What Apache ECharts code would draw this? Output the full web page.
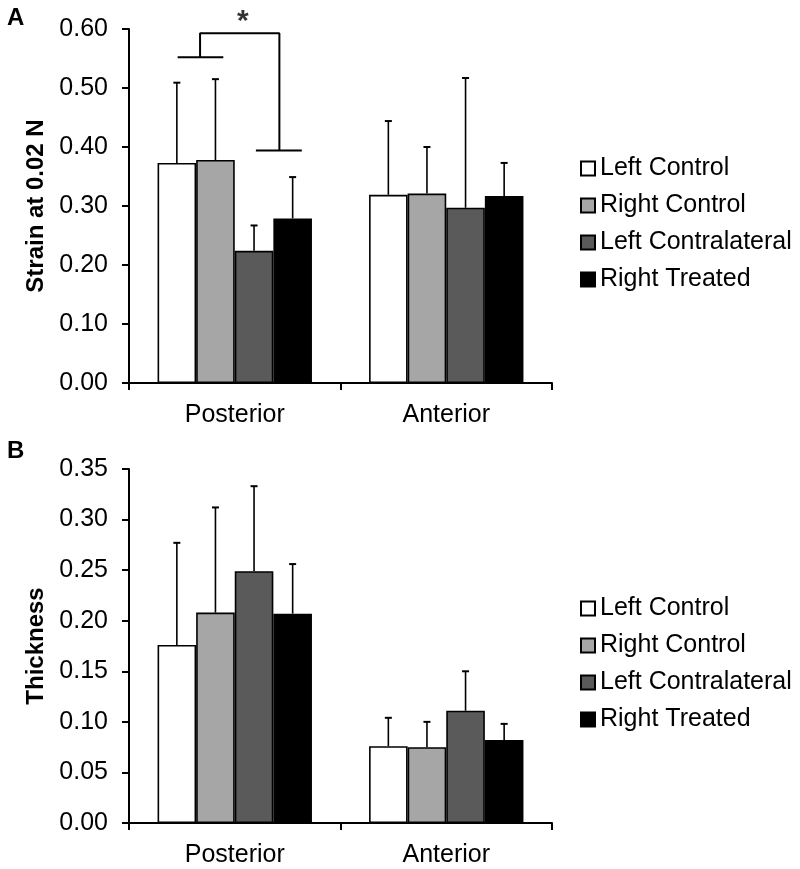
<!DOCTYPE html>
<html>
<head>
<meta charset="utf-8">
<script src="https://cdn.jsdelivr.net/npm/echarts@6/dist/echarts.min.js"></script>
<style>html,body{margin:0;padding:0;background:#fff;}#c{width:800px;height:869px;}</style>
</head>
<body>
<div id="c"></div>
<script>
const categories = ['Posterior', 'Anterior'];
const seriesNames = ['Left Control', 'Right Control', 'Left Contralateral', 'Right Treated'];
const seriesColors = ['#ffffff', '#a6a6a6', '#5a5a5a', '#000000'];

// Panel A: Strain at 0.02 N (mean, SD)
const strainLeftControl = [0.373, 0.319];
const strainRightControl = [0.378, 0.321];
const strainLeftContralateral = [0.224, 0.297];
const strainRightTreated = [0.279, 0.317];
const strainLeftControlSD = [0.136, 0.125];
const strainRightControlSD = [0.137, 0.079];
const strainLeftContralateralSD = [0.043, 0.220];
const strainRightTreatedSD = [0.070, 0.056];

// Panel B: Thickness (mean, SD)
const thickLeftControl = [0.176, 0.076];
const thickRightControl = [0.208, 0.075];
const thickLeftContralateral = [0.249, 0.111];
const thickRightTreated = [0.207, 0.082];
const thickLeftControlSD = [0.101, 0.028];
const thickRightControlSD = [0.104, 0.025];
const thickLeftContralateralSD = [0.084, 0.039];
const thickRightTreatedSD = [0.049, 0.016];

// Significance bracket (x in category units, category 0 spans 0..1)
const bracketLeftX = [0.230, 0.446];
const bracketLeftY = 0.552;
const bracketTopX = [0.336, 0.711];
const bracketTopY = 0.593;
const bracketRightX = [0.600, 0.817];
const bracketRightY = 0.394;
const asteriskPos = [0.538, 0.612];

const strainTicks = { min: 0, max: 0.6, interval: 0.1 };
const thickTicks = { min: 0, max: 0.35, interval: 0.05 };

const strainMeans = [strainLeftControl, strainRightControl, strainLeftContralateral, strainRightTreated];
const strainSDs = [strainLeftControlSD, strainRightControlSD, strainLeftContralateralSD, strainRightTreatedSD];
const thickMeans = [thickLeftControl, thickRightControl, thickLeftContralateral, thickRightTreated];
const thickSDs = [thickLeftControlSD, thickRightControlSD, thickLeftContralateralSD, thickRightTreatedSD];

const FONT = '"Liberation Sans", Arial, sans-serif';
const CAT_GAP = 0.27;
const FS = 25;

function barSeries(means, gridIdx) {
  return means.map((vals, i) => ({
    name: seriesNames[i],
    type: 'bar',
    xAxisIndex: gridIdx === 0 ? 0 : 2,
    yAxisIndex: gridIdx,
    data: vals,
    barGap: '0%',
    barCategoryGap: (CAT_GAP * 100) + '%',
    itemStyle: { color: seriesColors[i], borderColor: '#000', borderWidth: 1.6 },
    emphasis: { disabled: true },
    animation: false
  }));
}

function errSeries(means, sds, gridIdx) {
  return means.map((vals, i) => ({
    type: 'custom',
    xAxisIndex: gridIdx === 0 ? 0 : 2,
    yAxisIndex: gridIdx,
    data: vals.map((m, k) => [k, m, m + sds[i][k]]),
    renderItem: function (params, api) {
      const c = api.value(0);
      const base = api.coord([c, api.value(1)]);
      const top = api.coord([c, api.value(2)]);
      const catW = api.size([1, 0])[0];
      const barW = catW * (1 - CAT_GAP) / 4;
      const x = base[0] + (i - 1.5) * barW;
      return {
        type: 'group',
        children: [
          { type: 'line', shape: { x1: x, y1: base[1], x2: x, y2: top[1] }, style: { stroke: '#000', lineWidth: 1.6 } },
          { type: 'line', shape: { x1: x - 3.5, y1: top[1], x2: x + 3.5, y2: top[1] }, style: { stroke: '#000', lineWidth: 2 } }
        ]
      };
    },
    silent: true,
    animation: false,
    z: 5
  }));
}

function catAxis(gridIdx) {
  return {
    type: 'category',
    gridIndex: gridIdx,
    data: categories,
    axisLine: { lineStyle: { color: '#000', width: 2 } },
    axisTick: { show: true, length: 7, lineStyle: { color: '#000', width: 2 } },
    axisLabel: { color: '#000', fontSize: FS, fontFamily: FONT, margin: 20 },
    splitLine: { show: false }
  };
}

function valAxis(gridIdx, ticks, name) {
  return {
    type: 'value',
    gridIndex: gridIdx,
    min: ticks.min, max: ticks.max, interval: ticks.interval,
    name: name,
    nameLocation: 'middle',
    nameGap: 79,
    nameTextStyle: { color: '#000', fontSize: 24, fontWeight: 'bold', fontFamily: FONT },
    axisLine: { show: true, lineStyle: { color: '#000', width: 2 } },
    axisTick: { show: true, length: 7, lineStyle: { color: '#000', width: 2 } },
    axisLabel: { color: '#000', fontSize: FS, fontFamily: FONT, margin: 21, formatter: v => v.toFixed(2) },
    splitLine: { show: false }
  };
}

function legend(top) {
  return {
    data: seriesNames,
    orient: 'vertical',
    left: 575,
    top: top,
    itemWidth: 14,
    itemHeight: 14,
    itemGap: 12,
    icon: 'rect',
    selectedMode: false,
    textStyle: { color: '#000', fontSize: FS, fontFamily: FONT, lineHeight: 25 }
  };
}

const lineStyle = { color: '#000', width: 2 };
function bracketLine(data) {
  return {
    type: 'line', xAxisIndex: 1, yAxisIndex: 0, data: data,
    symbol: 'none', lineStyle: lineStyle, silent: true, animation: false, clip: false, z: 6
  };
}

const option = {
  backgroundColor: '#fff',
  animation: false,
  grid: [
    { left: 129, top: 29, width: 423, height: 354 },
    { left: 129, top: 469, width: 423, height: 354 }
  ],
  legend: [legend(151), legend(591)],
  xAxis: [
    catAxis(0),
    { type: 'value', gridIndex: 0, min: 0, max: 2, show: false, position: 'top' },
    catAxis(1)
  ],
  yAxis: [
    valAxis(0, strainTicks, 'Strain at 0.02 N'),
    valAxis(1, thickTicks, 'Thickness')
  ],
  series: [
    ...barSeries(strainMeans, 0),
    ...errSeries(strainMeans, strainSDs, 0),
    ...barSeries(thickMeans, 1),
    ...errSeries(thickMeans, thickSDs, 1),
    bracketLine([[bracketLeftX[0], bracketLeftY], [bracketLeftX[1], bracketLeftY]]),
    bracketLine([[bracketTopX[0], bracketLeftY], [bracketTopX[0], bracketTopY], [bracketTopX[1], bracketTopY], [bracketTopX[1], bracketRightY]]),
    bracketLine([[bracketRightX[0], bracketRightY], [bracketRightX[1], bracketRightY]]),
    {
      type: 'scatter', xAxisIndex: 1, yAxisIndex: 0, clip: false, silent: true,
      symbolSize: 0, data: [asteriskPos],
      label: { show: true, position: 'inside', formatter: '*', color: '#000', fontSize: 30, fontWeight: 'bold', fontFamily: FONT }
    }
  ],
  graphic: [
    { type: 'text', left: 7, top: 6, style: { text: 'A', fontSize: 24, fontWeight: 'bold', fontFamily: FONT, fill: '#000' } },
    { type: 'text', left: 7, top: 439, style: { text: 'B', fontSize: 24, fontWeight: 'bold', fontFamily: FONT, fill: '#000' } }
  ]
};

const chart = echarts.init(document.getElementById('c'), null, { renderer: 'canvas' });
chart.setOption(option);
</script>
</body>
</html>
